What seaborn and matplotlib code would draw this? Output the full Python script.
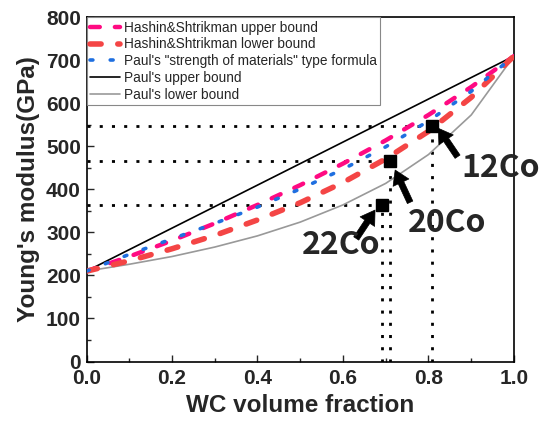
import numpy as np
import pandas as pd
import seaborn as sns
import matplotlib.pyplot as plt

# WC volume fraction vs Young's modulus (GPa)
wc_frac = [0.0, 0.1, 0.2, 0.3, 0.4, 0.5, 0.6, 0.7, 0.8, 0.9, 1.0]
hs_upper = [210, 244, 281, 321, 364, 410, 460, 514, 573, 638, 710]
hs_lower = [210, 234, 262, 293, 329, 369, 416, 471, 535, 614, 710]
paul_som = [210, 249, 285, 321, 359, 401, 447, 499, 559, 628, 710]
paul_upper = [210, 260, 310, 360, 410, 460, 510, 560, 610, 660, 710]
paul_lower = [210, 226, 244, 266, 292, 324, 364, 414, 481, 573, 710]

# measured samples
samples = ['12Co', '20Co', '22Co']
sample_frac = [0.808, 0.71, 0.692]
sample_E = [548, 465, 364]

sns.set_style('ticks')
plt.rcParams['font.family'] = ['Liberation Sans', 'DejaVu Sans']

fig, ax = plt.subplots(figsize=(5.42, 4.26), dpi=100)
fig.subplots_adjust(left=0.1596, right=0.9483, bottom=0.1514, top=0.9594)

# dotted guide lines to the axes
for f, e in zip(sample_frac, sample_E):
    ax.plot([0, f], [e, e], color='black', lw=2.0, linestyle=(0, (1.1, 3.3)), zorder=1)
    ax.plot([f, f], [0, e], color='black', lw=2.0, linestyle=(0, (1.1, 3.3)), zorder=1)

sns.lineplot(x=wc_frac, y=hs_upper, ax=ax, color='#ff0a82', lw=3.2,
             linestyle=(0, (2.2, 3.4)), dash_capstyle='round',
             label='Hashin&Shtrikman upper bound', zorder=3)
sns.lineplot(x=wc_frac, y=hs_lower, ax=ax, color='#f44545', lw=4.0,
             linestyle=(0, (2.0, 3.0)), dash_capstyle='round',
             label='Hashin&Shtrikman lower bound', zorder=3)
sns.lineplot(x=wc_frac, y=paul_som, ax=ax, color='#1f6fe0', lw=2.6,
             linestyle=(0, (0.8, 4.8)), dash_capstyle='round',
             label='Paul\'s "strength of materials" type formula', zorder=4)
sns.lineplot(x=wc_frac, y=paul_upper, ax=ax, color='black', lw=1.2,
             label="Paul's upper bound", zorder=2)
sns.lineplot(x=wc_frac, y=paul_lower, ax=ax, color='#999999', lw=1.2,
             label="Paul's lower bound", zorder=2)

ax.plot(sample_frac, sample_E, 's', color='black', markersize=8, zorder=5)

# arrows and sample labels
arrow_tips = [(0.823, 542), (0.722, 445), (0.675, 352)]
arrow_tails = [(0.868, 476), (0.757, 370), (0.631, 286)]
text_pos = [(0.97, 450), (0.843, 322), (0.595, 271)]
for name, tip, tail, tp in zip(samples, arrow_tips, arrow_tails, text_pos):
    ax.annotate('', xy=tip, xytext=tail,
                arrowprops=dict(facecolor='black', edgecolor='black', linewidth=0.5,
                                width=4.3, headwidth=12.5, headlength=10, shrink=0),
                zorder=6)
    ax.text(tp[0], tp[1], name, ha='center', va='center', fontsize=23,
            fontweight='bold', family=['Noto Sans CJK KR', 'DejaVu Sans'], zorder=6)

ax.set_xlim(0, 1)
ax.set_ylim(0, 800)
ax.set_xticks(np.arange(0, 1.01, 0.2))
ax.set_xticks(np.arange(0, 1.01, 0.1), minor=True)
ax.set_yticks(np.arange(0, 801, 100))
ax.set_yticks(np.arange(0, 801, 50), minor=True)
ax.tick_params(which='major', direction='in', length=5, width=1, labelsize=15, pad=4,
               top=False, right=False)
ax.tick_params(axis='x', which='major', pad=5.5)
ax.tick_params(which='minor', direction='in', length=3, width=1, top=False, right=False)
for lab in ax.get_xticklabels() + ax.get_yticklabels():
    lab.set_fontweight('bold')
for sp in ax.spines.values():
    sp.set_linewidth(1.2)
    sp.set_color('black')

ax.set_xlabel('WC volume fraction', fontsize=17.5, fontweight='bold', labelpad=4.5)
ax.set_ylabel("Young's modulus(GPa)", fontsize=17.5, fontweight='bold', labelpad=4)

leg = ax.legend(loc='upper left', bbox_to_anchor=(0, 1), borderaxespad=0,
                fontsize=9.8, handlelength=2.2, handletextpad=0.3,
                labelspacing=0.2, borderpad=0.25, fancybox=False,
                framealpha=1, edgecolor='#888888')
leg.get_frame().set_linewidth(0.8)

fig.savefig('out.png', dpi=100)
